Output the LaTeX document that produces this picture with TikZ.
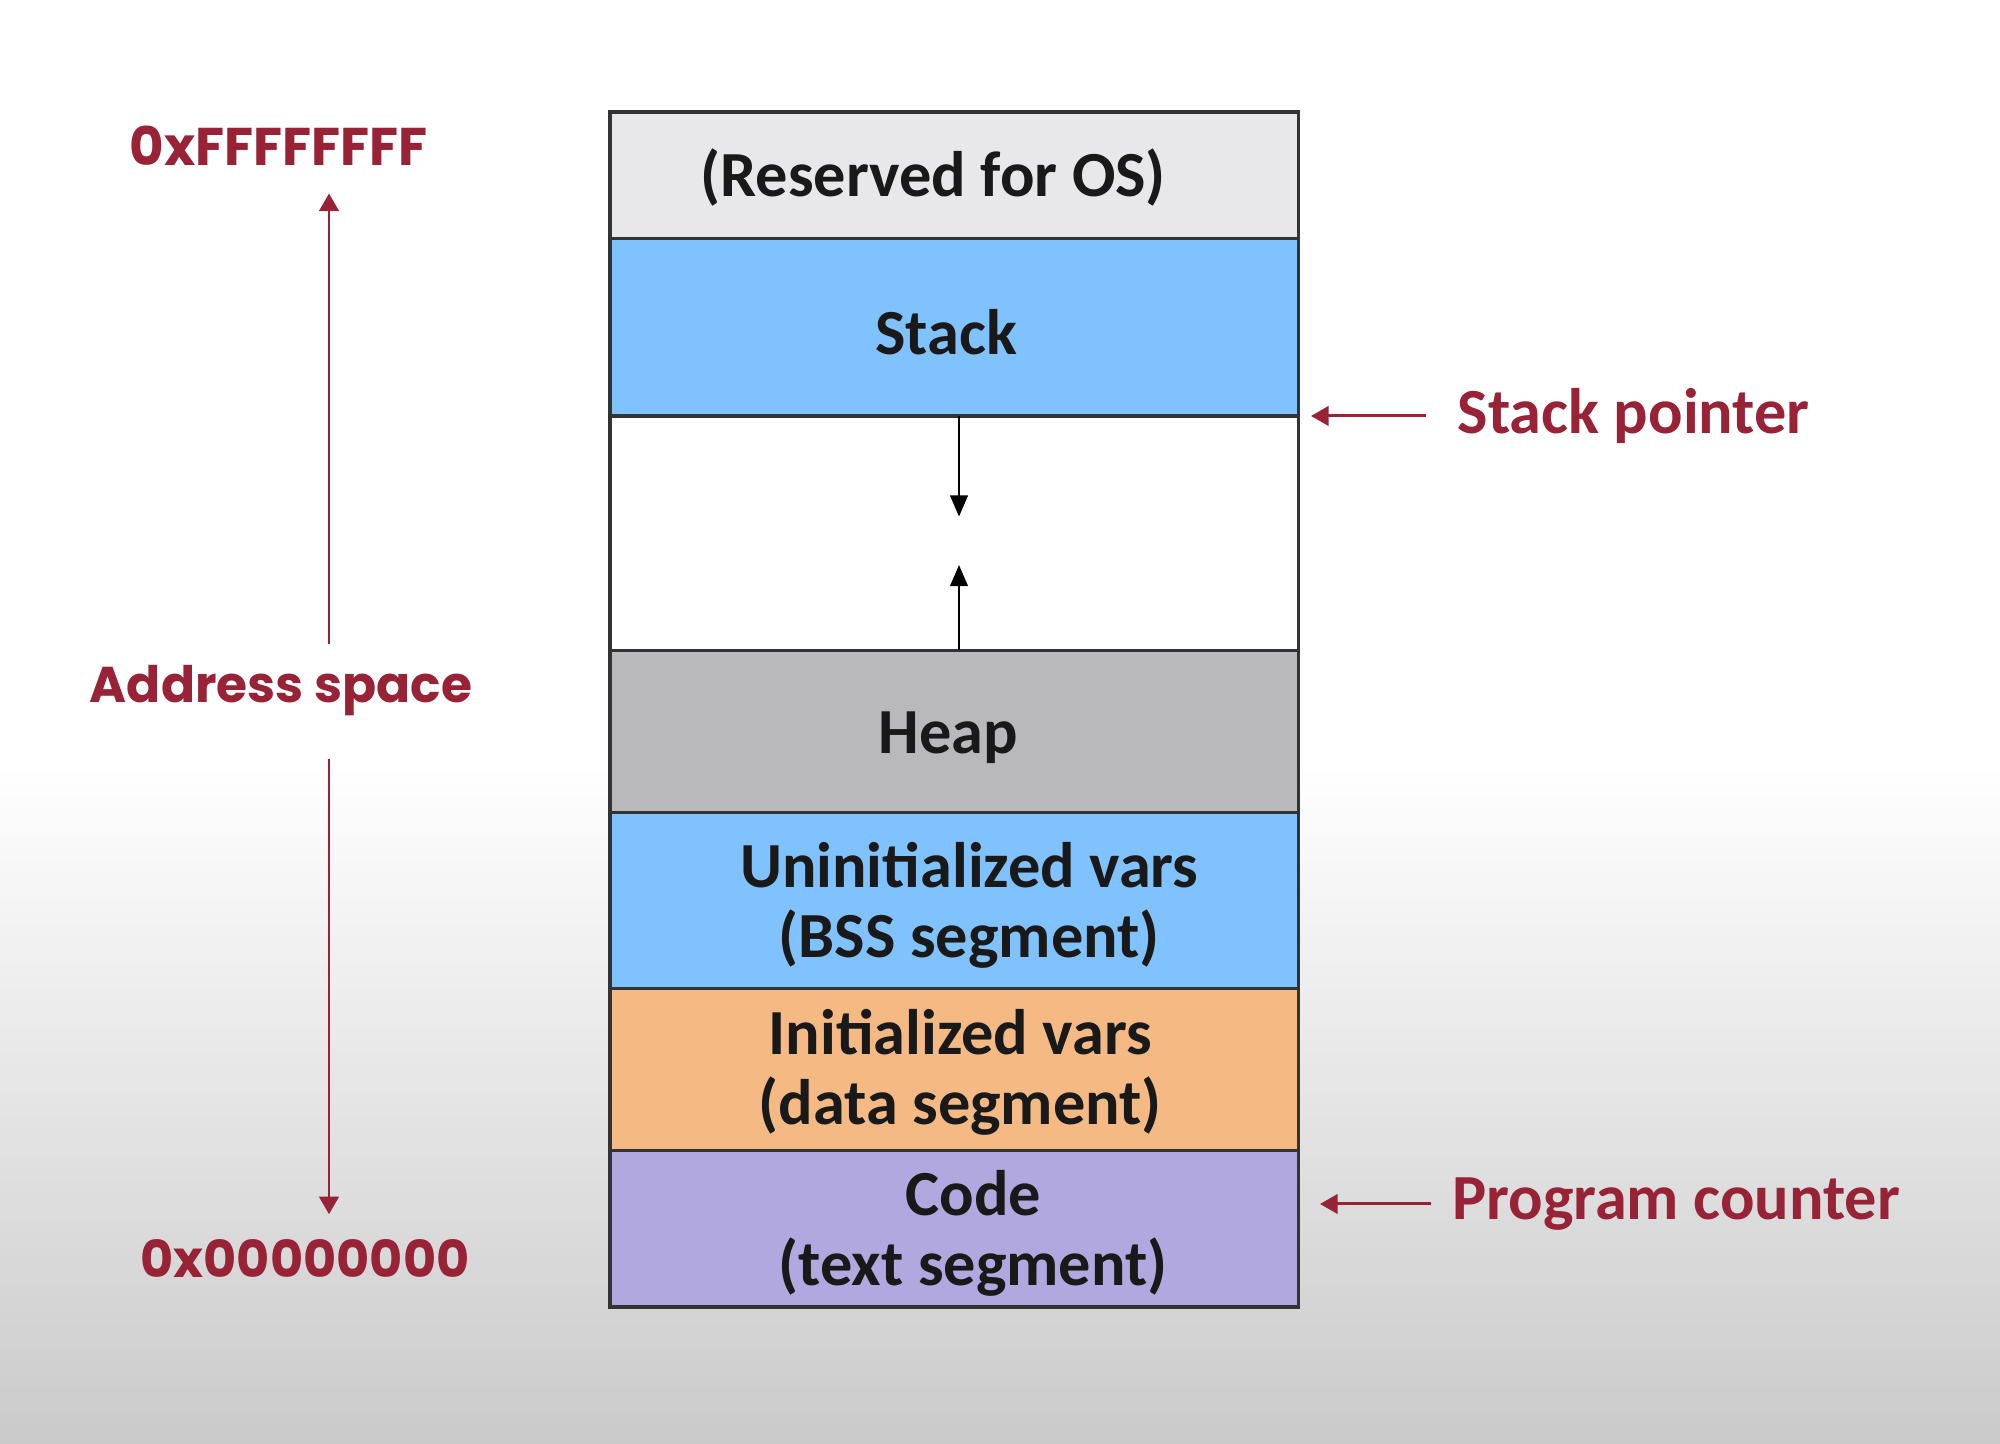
\documentclass[tikz,border=0pt]{standalone}
\usepackage{fontspec}
\setmainfont{Carlito}
\newfontfamily\addrfont{Poppins}
\usetikzlibrary{arrows.meta, positioning, calc}

\definecolor{addrred}{RGB}{152,34,54}
\definecolor{osgray}{RGB}{232,231,234}
\definecolor{segblue}{RGB}{128,194,253}
\definecolor{heapgray}{RGB}{185,184,187}
\definecolor{dataorange}{RGB}{245,185,132}
\definecolor{codepurple}{RGB}{178,168,224}
\definecolor{bglow}{RGB}{202,202,202}

\begin{document}
\begin{tikzpicture}[
    seg/.style={rectangle, draw=black!80, line width=0.9pt, minimum width=6.885cm, outer sep=0pt, inner sep=0pt},
    segtext/.style={align=center, font=\fontsize{18.3}{19.9}\selectfont\bfseries, text=black!90},
    ptrtext/.style={anchor=west, inner sep=0pt, font=\fontsize{18.3}{19.9}\selectfont\bfseries, text=addrred},
    addrtext/.style={inner sep=0pt, font=\addrfont\fontsize{14.5}{16}\selectfont\bfseries, text=addrred},
    inarr/.style={-{Triangle[width=5pt,length=6pt]}, line width=0.6pt, color=black},
    redarr/.style={-{Triangle[width=5.5pt,length=5pt]}, line width=0.85pt, color=addrred}
]
% background
\fill[white] (0,0) rectangle (20,14.44);
\shade[top color=white, bottom color=bglow] (0,0) rectangle (20,6.8);

% memory segments
\node[seg, fill=osgray, minimum height=1.265cm, anchor=north west] (os) at (6.10,13.32) {};
\node[seg, fill=segblue, minimum height=1.775cm, below=0pt of os] (stack) {};
\node[seg, fill=white, minimum height=2.345cm, below=0pt of stack] (free) {};
\node[seg, fill=heapgray, minimum height=1.62cm, below=0pt of free] (heap) {};
\node[seg, fill=segblue, minimum height=1.76cm, below=0pt of heap] (bss) {};
\node[seg, fill=dataorange, minimum height=1.62cm, below=0pt of bss] (data) {};
\node[seg, fill=codepurple, minimum height=1.565cm, below=0pt of data] (code) {};

\node[segtext] (ostext) at ([xshift=-2.1mm,yshift=-0.2mm]os.center) {(Reserved for OS)};
\node[segtext] (stacktext) at ([xshift=-0.8mm,yshift=-0.5mm]stack.center) {Stack};
\node[segtext] (heaptext) at ([xshift=-0.6mm,yshift=-0.6mm]heap.center) {Heap};
\node[segtext] (bsstext) at ([xshift=1.5mm,yshift=-0.5mm]bss.center) {Uninitialized vars\\(BSS segment)};
\node[segtext] (datatext) at ([xshift=0.6mm,yshift=-0.3mm]data.center) {Initialized vars\\(data segment)};
\node[segtext] (codetext) at ([xshift=1.9mm,yshift=-0.5mm]code.center) {Code\\(text segment)};

% growth arrows
\coordinate (stacktip) at (9.59,9.274);
\coordinate (heaptip) at (9.59,8.79);
\draw[inarr] (stacktip |- stack.south) -- (stacktip);
\draw[inarr] (heaptip |- heap.north) -- (heaptip);

% pointers
\node[ptrtext] (sp) at (14.57,10.28) {Stack pointer};
\node[ptrtext] (pc) at (14.515,2.40) {Program counter};
\draw[redarr, shorten <=3.1mm, shorten >=1.25mm] (sp.west) -- (sp.west -| stack.east);
\draw[redarr, shorten <=2.05mm, shorten >=2.15mm] (pc.west) -- (pc.west -| code.east);

% address range
\coordinate (axis) at (3.29,0);
\node[addrtext, font=\addrfont\fontsize{15.1}{16}\selectfont\bfseries] (hi) at (2.79,12.985) {0xFFFFFFFF};
\node[addrtext, font=\addrfont\fontsize{14.3}{16}\selectfont\bfseries] (addr) at (2.81,7.53) {Address space};
\node[addrtext] (lo) at (3.05,1.85) {0x00000000};
\draw[redarr, shorten <=2.1mm, shorten >=2.75mm] (addr.north -| axis) -- (hi.south -| axis);
\draw[redarr, shorten <=4.2mm, shorten >=2.5mm] (addr.south -| axis) -- (lo.north -| axis);
\end{tikzpicture}
\end{document}
